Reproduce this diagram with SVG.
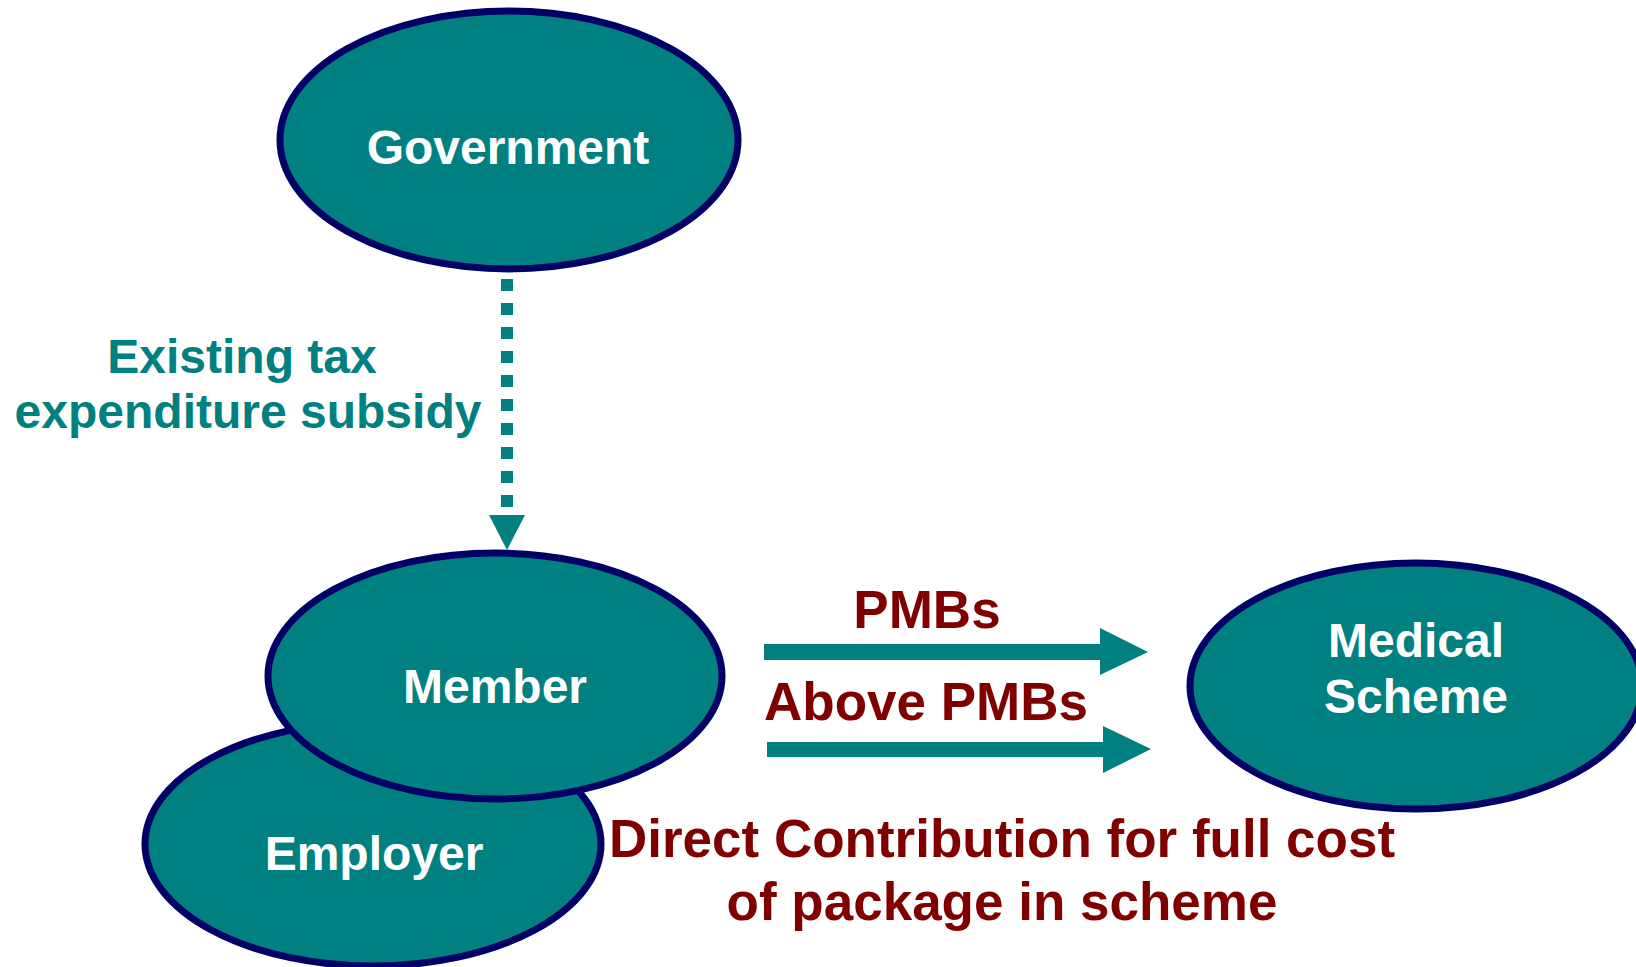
<svg xmlns="http://www.w3.org/2000/svg" width="1636" height="967" viewBox="0 0 1636 967">
<style>
.node{fill:#008080;stroke:#000066;stroke-width:7}
.lbl{font-family:"Liberation Sans",Arial,sans-serif;font-weight:bold;fill:#ffffff;font-size:48px;text-anchor:middle}
.teal{font-family:"Liberation Sans",Arial,sans-serif;font-weight:bold;fill:#008080;font-size:48px;text-anchor:middle}
.red{font-family:"Liberation Sans",Arial,sans-serif;font-weight:bold;fill:#800000;font-size:53px;text-anchor:middle}
.arrow{fill:#008080}
</style>
<rect width="1636" height="967" fill="#ffffff"/>
<g id="government">
<ellipse class="node" cx="509" cy="140" rx="229" ry="129"/>
<text class="lbl" x="508" y="164">Government</text>
</g>
<g id="employer">
<ellipse class="node" cx="373" cy="844" rx="228" ry="122"/>
<text class="lbl" x="374" y="870">Employer</text>
</g>
<g id="member">
<ellipse class="node" cx="495" cy="676" rx="227" ry="123"/>
<text class="lbl" x="495" y="703">Member</text>
</g>
<g id="medical-scheme">
<ellipse class="node" cx="1416" cy="686" rx="226" ry="123"/>
<text class="lbl" x="1416" y="657">Medical</text>
<text class="lbl" x="1416" y="713">Scheme</text>
</g>
<g id="connectors">
<line x1="507" y1="279" x2="507" y2="507" stroke="#008080" stroke-width="12" stroke-dasharray="12 12"/>
<polygon class="arrow" points="489,515 525,515 507,550"/>
<polygon class="arrow" points="764,644 1100,644 1100,628 1148,652 1100,675 1100,660 764,660"/>
<polygon class="arrow" points="767,742 1103,742 1103,726 1151,749 1103,773 1103,757 767,757"/>
</g>
<g id="labels">
<text class="teal" x="242" y="373">Existing tax</text>
<text class="teal" x="248" y="428">expenditure subsidy</text>
<text class="red" x="927" y="628" font-size="52">PMBs</text>
<text class="red" x="926" y="720" font-size="52">Above PMBs</text>
<text class="red" x="1002" y="857">Direct Contribution for full cost</text>
<text class="red" x="1002" y="920">of package in scheme</text>
</g>
</svg>
